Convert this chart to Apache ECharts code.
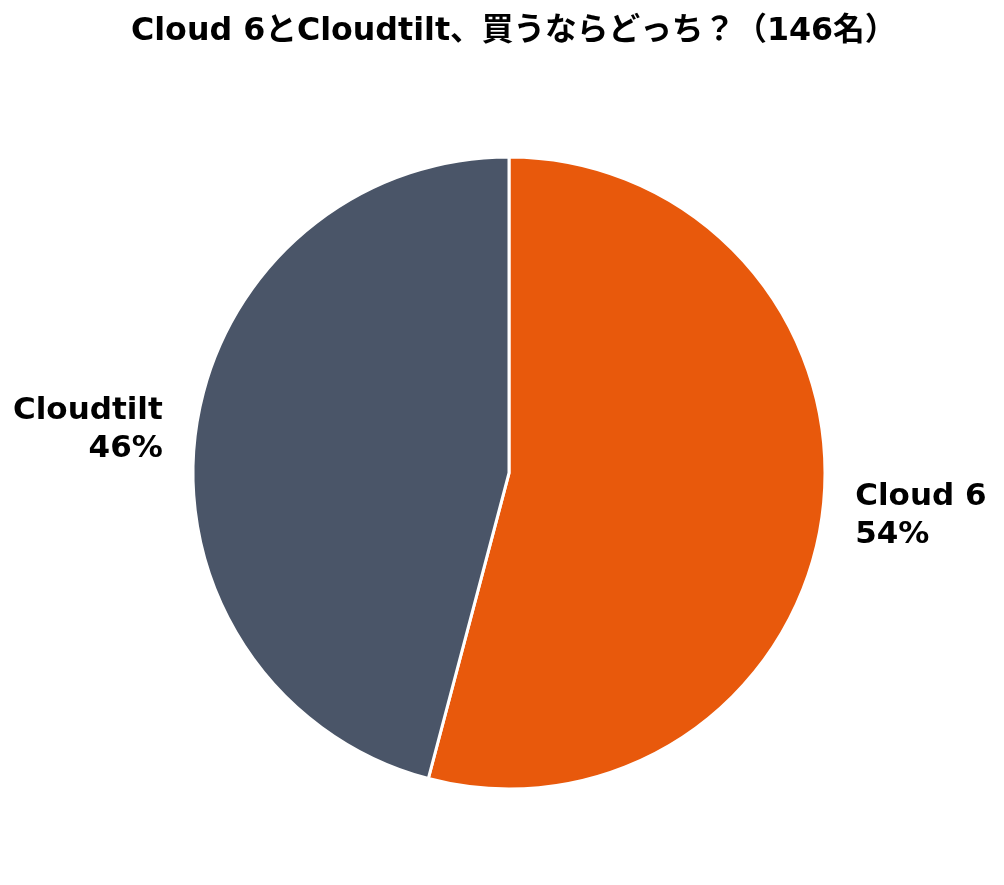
<!DOCTYPE html>
<html><head><meta charset="utf-8">
<script src="https://cdn.jsdelivr.net/npm/echarts@6/dist/echarts.min.js"></script>
<style>html,body{margin:0;padding:0;background:#fff}#c{width:1004px;height:885px}</style>
</head><body><div id="c"></div>
<script>
const titleText = 'Cloud 6とCloudtilt、買うならどっち？（146名）';
const categories = ['Cloud 6', 'Cloudtilt'];
const values = [79, 67];
const colors = ['#E8590C', '#4A5568'];

const chart = echarts.init(document.getElementById('c'), null, {renderer: 'canvas'});
const FONT = '"DejaVu Sans", "Noto Sans CJK JP", sans-serif';
chart.setOption({
  animation: false,
  backgroundColor: '#ffffff',
  title: {
    text: titleText, left: 126, top: 11,
    textStyle: {fontFamily: FONT, fontSize: 31.7, fontWeight: 'bold', color: '#000'}
  },
  series: [{
    type: 'pie',
    center: [509, 473],
    radius: 316,
    startAngle: 90,
    clockwise: true,
    data: categories.map((c, i) => ({name: c, value: values[i], itemStyle: {color: colors[i]}})),
    itemStyle: {borderColor: '#fff', borderWidth: 3},
    label: {
      show: true, position: 'outside',
      formatter: p => p.name + '\n' + Math.round(p.percent) + '%',
      fontFamily: FONT, fontSize: 31, fontWeight: 'bold', color: '#000', lineHeight: 38
    },
    labelLine: {show: false, length: 20, length2: 8},
    emphasis: {disabled: true}
  }]
});
</script></body></html>
